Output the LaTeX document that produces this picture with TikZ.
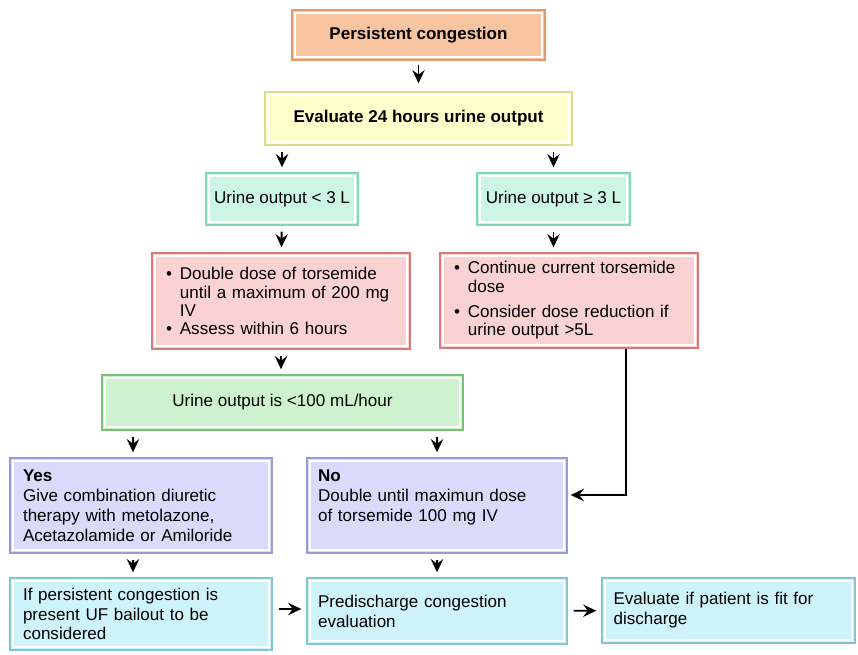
\documentclass[tikz,border=0pt]{standalone}
\usepackage{fontspec}
\setmainfont{Liberation Sans}
\usepackage{tikz}
\usetikzlibrary{arrows.meta}

\definecolor{congfill}{HTML}{F9C4A0}
\definecolor{congline}{HTML}{E39A6B}
\definecolor{evalfill}{HTML}{FFFFCC}
\definecolor{evalline}{HTML}{DCDC8C}
\definecolor{mintfill}{HTML}{CCF5E6}
\definecolor{mintline}{HTML}{80D6B6}
\definecolor{pinkfill}{HTML}{FAD2D2}
\definecolor{pinkline}{HTML}{D67A7A}
\definecolor{greenfill}{HTML}{CDF2CD}
\definecolor{greenline}{HTML}{76C276}
\definecolor{lilacfill}{HTML}{DADAFA}
\definecolor{lilacline}{HTML}{9A9AD6}
\definecolor{cyanfill}{HTML}{CFF3FA}
\definecolor{cyanline}{HTML}{82C6D6}

\newcommand{\bul}[2]{\textbullet\hspace{4.5pt}\parbox[t]{#1}{#2}}

\tikzset{
  box/.style={draw=#1line, fill=#1fill, line width=0.8pt, inner sep=0pt,
    font=\fontsize{9.7}{11.3}\selectfont,
    path picture={\draw[white, line width=0.8pt]
      ([shift={(1.6pt,1.6pt)}]path picture bounding box.south west) rectangle
      ([shift={(-1.6pt,-1.6pt)}]path picture bounding box.north east);}},
  arr/.style={-{Stealth[length=7.5pt,width=7pt,inset=2.6pt]}, line width=1.1pt,
    shorten <=0.12cm, shorten >=0.1cm}
}

\begin{document}
\begin{tikzpicture}[x=0.02cm, y=-0.02cm]
    \useasboundingbox (0,0) rectangle (858,655);
    % Top of the chart
    \node[box=cong, minimum width=5.06cm, minimum height=1cm] (cong) at (418.5,35) {\bfseries Persistent congestion};
    \node[box=eval, minimum width=6.14cm, minimum height=1.06cm] (eval) at (418.5,118.5) {\bfseries Evaluate 24 hours urine output};
    % Two outputs
    \node[box=mint, minimum width=3.04cm, minimum height=1.04cm] (lowout) at (282,199) {Urine output < 3 L};
    \node[box=mint, minimum width=3.06cm, minimum height=1.04cm] (highout) at (553.5,199) {Urine output ≥ 3 L};
    \node[box=pink, minimum width=5.16cm, minimum height=1.92cm, text width=4.6cm, align=left,
        font=\fontsize{9.7}{10.6}\selectfont] (lowdose) at (281,301)
        {\bul{4.2cm}{Double dose of torsemide\\until a maximum of 200 mg\\IV}\\[2pt]\bul{4.2cm}{Assess within 6 hours}};
    \node[box=pink, minimum width=5.16cm, minimum height=1.9cm, text width=4.6cm, align=left,
        font=\fontsize{9.7}{10.6}\selectfont] (highdose) at (569,300.5)
        {\bul{4.2cm}{Continue current torsemide\\dose}\\[6pt]\bul{4.2cm}{Consider dose reduction if\\urine output >5L}};
    % Hourly check
    \node[box=green, minimum width=7.22cm, minimum height=1.1cm] (hourly) at (282.5,402.5) {Urine output is <100 mL/hour};
    \node[box=lilac, minimum width=5.24cm, minimum height=1.9cm, text width=4.72cm, align=left] (yes) at (141,505.5)
        {\textbf{Yes}\\Give combination diuretic\\therapy with metolazone,\\Acetazolamide or Amiloride};
    \node[box=lilac, minimum width=5.2cm, minimum height=1.9cm, text width=4.76cm, align=left] (no) at (437,505.5)
        {\textbf{No}\\Double until maximun dose\\of torsemide 100 mg IV\\\mbox{}};
    % Bottom row
    \node[box=cyan, minimum width=5.24cm, minimum height=1.44cm, text width=4.72cm, align=left] (uf) at (141,614)
        {If persistent congestion is\\present UF bailout to be\\considered};
    \node[box=cyan, minimum width=5.2cm, minimum height=1.32cm, text width=4.76cm, align=left] (predis) at (437,611)
        {Predischarge congestion\\evaluation};
    \node[box=cyan, minimum width=5.06cm, minimum height=1.3cm, text width=4.6cm, align=left] (fit) at (728.5,610.5)
        {Evaluate if patient is fit for\\discharge};
    % Connectors
    \draw[arr, shorten >=0.16cm, shorten <=0.08cm] (cong) -- (eval);
    \draw[arr] (eval.south -| lowout.north) -- (lowout.north);
    \draw[arr] (eval.south -| highout.north) -- (highout.north);
    \draw[arr] (lowout) -- (lowdose);
    \draw[arr] (highout) -- (highout |- highdose.north);
    \draw[arr] (lowdose.south) -- (lowdose.south |- hourly.north);
    \draw[arr] ([xshift=-0.16cm]hourly.south -| yes.north) -- ([xshift=-0.16cm]yes.north);
    \draw[arr] (hourly.south -| no.north) -- (no.north);
    \draw[arr, shorten <=0pt, shorten >=0.06cm] ([xshift=1.14cm]highdose.south) |- ([yshift=0.21cm]no.east);
    \draw[arr] ([xshift=-0.16cm]yes.south) -- ([xshift=-0.16cm]yes.south |- uf.north);
    \draw[arr] (no) -- (predis);
    \draw[arr] ([yshift=0.1cm]uf.east) -- ([yshift=0.1cm]uf.east -| predis.west);
    \draw[arr] (predis) -- (fit);
\end{tikzpicture}
\end{document}
